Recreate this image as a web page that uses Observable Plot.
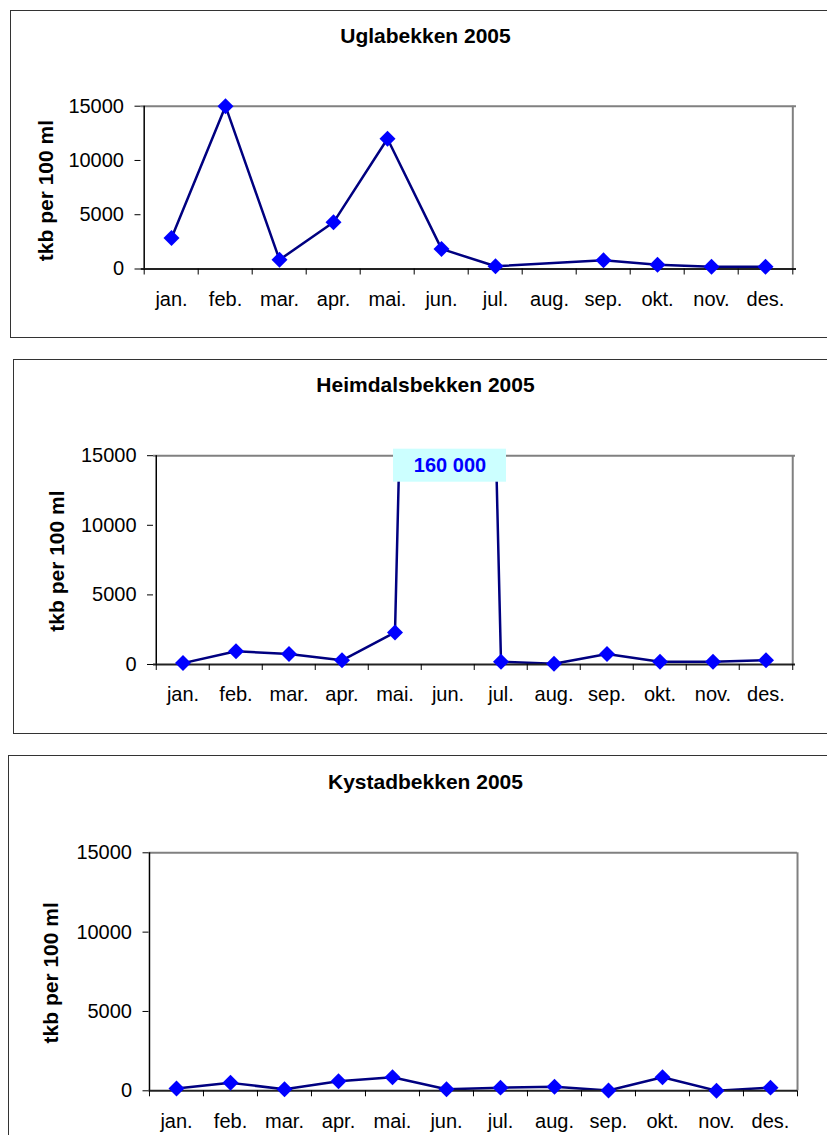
<!DOCTYPE html>
<html>
<head>
<meta charset="utf-8">
<script src="https://cdn.jsdelivr.net/npm/d3@7"></script>
<script src="https://cdn.jsdelivr.net/npm/@observablehq/plot@0.6"></script>
<style>
html, body { margin: 0; padding: 0; background: #fff; overflow: hidden; }
body { width: 827px; height: 1135px; position: relative; font-family: "Liberation Sans", Arial, sans-serif; }
.panel { position: absolute; border: 1.5px solid #333; box-sizing: border-box; }
.title { position: absolute; left: 0; width: 851px; text-align: center; font-weight: bold; font-size: 21px; line-height: 21px; color: #000; white-space: nowrap; }
.chart { position: absolute; left: 0; }
</style>
</head>
<body>
<script>
// ---- data ----
const months = ["jan.", "feb.", "mar.", "apr.", "mai.", "jun.", "jul.", "aug.", "sep.", "okt.", "nov.", "des."];
const uglaValues    = [2850, 15000, 850, 4300, 12000, 1850, 250, null, 800, 400, 200, 200];
const heimdalValues = [100, 950, 750, 300, 2300, 160000, 200, 50, 750, 200, 200, 300];
const kystadValues  = [150, 500, 100, 600, 850, 100, 200, 250, 20, 850, 10, 200];
const yTicks = [0, 5000, 10000, 15000];
const titles = ["Uglabekken 2005", "Heimdalsbekken 2005", "Kystadbekken 2005"];
const yLabel = "tkb per 100 ml";
const offChartLabel = "160 000";

// ---- layout (page pixels) ----
const layout = [
  {panel: {left: 10, top: 10, width: 840, height: 328}, svgH: 328,
   plot: {left: 140.5, right: 796, top: 105.7, bottom: 268.5}, titleTop: 25, labelX: 46, labelDy: 3},
  {panel: {left: 13, top: 359.3, width: 840, height: 374.7}, svgH: 374.7,
   plot: {left: 153, right: 795, top: 455.5, bottom: 664.3}, titleTop: 374, labelX: 57, labelDy: 1},
  {panel: {left: 7.5, top: 755, width: 840, height: 420}, svgH: 380,
   plot: {left: 148.5, right: 797, top: 852.3, bottom: 1090.3}, titleTop: 771, labelX: 51, labelDy: 1}
];

const series = [uglaValues, heimdalValues, kystadValues];

series.forEach((values, idx) => {
  const cfg = layout[idx];
  const panel = document.createElement("div");
  panel.className = "panel";
  Object.assign(panel.style, {left: cfg.panel.left + "px", top: cfg.panel.top + "px",
    width: cfg.panel.width + "px", height: cfg.panel.height + "px"});
  document.body.appendChild(panel);

  const title = document.createElement("div");
  title.className = "title";
  title.style.top = cfg.titleTop + "px";
  title.textContent = titles[idx];
  document.body.appendChild(title);

  const yMax = yTicks[yTicks.length - 1];
  const data = months.map((m, i) => ({month: m, value: values[i]})).filter(d => d.value != null);
  const inRange = data.filter(d => d.value <= yMax);
  const off = data.filter(d => d.value > yMax);
  const svgTop = cfg.panel.top;
  const H = cfg.svgH;
  const mL = cfg.plot.left, mR = 827 - cfg.plot.right;
  const mT = cfg.plot.top - svgTop, mB = svgTop + H - cfg.plot.bottom;
  const bw = (cfg.plot.right - cfg.plot.left) / months.length;

  const marks = [
    Plot.ruleY([yMax], {stroke: "#808080", strokeWidth: 2}),
    Plot.ruleX([months[months.length - 1]], {dx: bw / 2, stroke: "#808080", strokeWidth: 2}),
    Plot.lineY(data, {x: "month", y: "value", stroke: "#000080", strokeWidth: 2.5, clip: true}),
    Plot.ruleX([months[0]], {dx: -bw / 2, stroke: "#000", strokeWidth: 1.5}),
    Plot.ruleY([0], {stroke: "#222", strokeWidth: 2}),
    Plot.dot(inRange, {x: "month", y: "value", symbol: "diamond2", r: 7.2, fill: "#0000FF"}),
    Plot.axisY({ticks: yTicks, tickSize: 6, tickPadding: 11, tickFormat: d => String(d), fontSize: 20, label: null}),
    Plot.axisX({ticks: months, tickSize: 6, tickFormat: () => "", dx: -bw / 2, label: null}),
    Plot.axisX({ticks: [months[months.length - 1]], tickSize: 6, tickFormat: () => "", dx: bw / 2, label: null}),
    Plot.axisX({ticks: months, tickSize: 0, tickPadding: 22.5, fontSize: 20, label: null}),
    Plot.text([yLabel], {frameAnchor: "left", textAnchor: "middle", lineAnchor: "middle", rotate: -90,
      dx: cfg.labelX - cfg.plot.left, dy: cfg.labelDy,
      fontSize: 21, fontWeight: "bold", fill: "#000"})
  ];

  if (off.length) {
    marks.push(Plot.barY(off, {x: "month", y1: () => yMax, y2: () => yMax,
      insetLeft: -30, insetRight: -30, insetTop: -6.5, insetBottom: -26.5, dx: 2, fill: "#CCFFFF"}));
    marks.push(Plot.text(off, {x: "month", y: () => yMax, text: () => offChartLabel, dx: 2, dy: 10,
      fontSize: 20, fontWeight: "bold", fill: "#0000FF"}));
  }

  const chart = Plot.plot({
    width: 827,
    height: H,
    marginLeft: mL, marginRight: mR, marginTop: mT, marginBottom: mB,
    style: {fontFamily: "Liberation Sans, Arial, sans-serif", fontSize: "20px", background: "transparent", overflow: "visible", color: "#000"},
    x: {type: "band", domain: months, padding: 0, label: null},
    y: {domain: [0, yMax], label: null},
    marks
  });
  chart.classList.add("chart");
  chart.style.top = svgTop + "px";
  chart.style.position = "absolute";
  chart.style.left = "0px";
  document.body.appendChild(chart);
});
</script>
</body>
</html>
